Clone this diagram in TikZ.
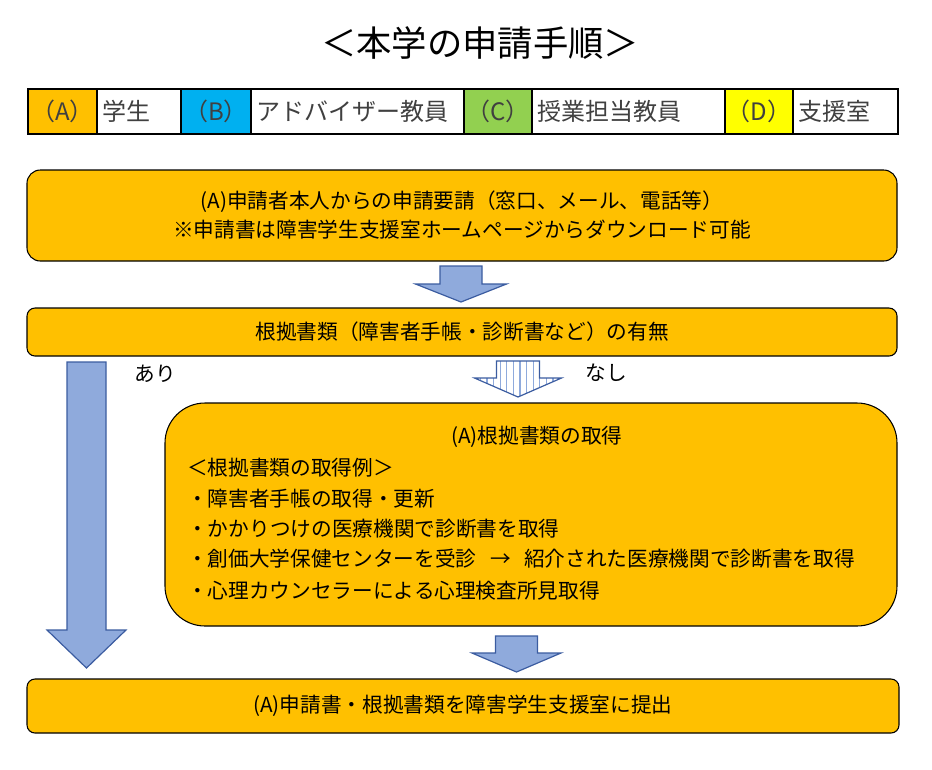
\documentclass[tikz,border=0pt]{standalone}
\usepackage{fontspec}
\setmainfont{Noto Sans CJK JP}

\definecolor{boxorange}{RGB}{255,192,0}
\definecolor{legblue}{RGB}{0,176,240}
\definecolor{leggreen}{RGB}{146,208,80}
\definecolor{legyellow}{RGB}{255,255,0}
\definecolor{legtext}{RGB}{64,64,64}
\definecolor{arrowfill}{RGB}{143,170,220}
\definecolor{arrowline}{RGB}{59,92,160}

% down block arrow: [style] x, top, head base, tip, shaft half width, head half width
\newcommand{\blockdown}[7][blockarrow]{%
  \path[#1] (#2-#6,#3) -- (#2+#6,#3) -- (#2+#6,#4) -- (#2+#7,#4) -- (#2,#5) -- (#2-#7,#4) -- (#2-#6,#4) -- cycle;}

\begin{document}
\begin{tikzpicture}[x=0.75pt, y=-0.75pt,
  flowbox/.style={draw, line width=0.8pt, fill=boxorange, inner sep=0pt, align=center, font=\fontsize{15.5}{21.75}\selectfont},
  legcell/.style={draw, line width=1.6pt, anchor=west, minimum height=33.75pt, inner sep=0pt, font=\fontsize{18}{20}\selectfont, text=legtext},
  legtextcell/.style={legcell, fill=white, inner xsep=4pt, align=left},
  blockarrow/.style={draw=arrowline, line width=0.9pt, fill=arrowfill},
  plain/.style={inner sep=0pt, font=\fontsize{15.5}{21.75}\selectfont}]
\useasboundingbox (0,0) rectangle (932,769);

\node[font=\fontsize{26.5}{30}\selectfont] (title) at (480,43) {＜本学の申請手順＞};

% legend
\node[legcell, fill=boxorange, minimum width=51.75pt] (la) at (27,111.5) {（A）};
\node[legtextcell, text width=55pt] (lstudent) at (96,111.5) {学生};
\node[legcell, fill=legblue, minimum width=52.5pt] (lb) at (180,111.5) {（B）};
\node[legtextcell, text width=151.75pt] (ladviser) at (250,111.5) {アドバイザー教員};
\node[legcell, fill=leggreen, minimum width=51pt] (lc) at (463,111.5) {（C）};
\node[legtextcell, text width=136.75pt] (lteacher) at (531,111.5) {授業担当教員};
\node[legcell, fill=legyellow, minimum width=51pt] (ld) at (724,111.5) {（D）};
\node[legtextcell, text width=70.75pt] (loffice) at (792,111.5) {支援室};

% flow
\node[flowbox, rounded corners=10pt, minimum width=652.5pt, minimum height=68.25pt] (request) at (462,215.5)
  {(A)申請者本人からの申請要請（窓口、メール、電話等）\\※申請書は障害学生支援室ホームページからダウンロード可能};
\node[flowbox, rounded corners=6pt, minimum width=652.5pt, minimum height=36pt] (evidence) at (462,332)
  {根拠書類（障害者手帳・診断書など）の有無};
\node[flowbox, rounded corners=30pt, minimum width=549pt, minimum height=167.25pt] (obtain) at (531,514.5) {};
\node[flowbox, rounded corners=6pt, minimum width=654pt, minimum height=40.5pt] (submit) at (463,706)
  {(A)申請書・根拠書類を障害学生支援室に提出};

\node[plain] (obtaintitle) at (537,437) {(A)根拠書類の取得};
\node[plain, anchor=west] (examples) at (187,468) {＜根拠書類の取得例＞};
\node[plain, anchor=west] (ex1) at (187,499) {・障害者手帳の取得・更新};
\node[plain, anchor=west] (ex2) at (187,529) {・かかりつけの医療機関で診断書を取得};
\node[plain, anchor=west] (ex3) at (187,559) {・創価大学保健センターを受診\hspace{0.65em}→\hspace{0.65em}紹介された医療機関で診断書を取得};
\node[plain, anchor=west] (ex4) at (187,591) {・心理カウンセラーによる心理検査所見取得};

\node[plain] (yes) at (155,374) {あり};
\node[plain] (no) at (606,373) {なし};

% arrows
\blockdown{461}{266}{284}{302}{21}{45.5}
\blockdown{86.5}{362}{630}{668}{19.5}{39.5}
\blockdown{516.5}{636}{653}{672}{21}{44.5}

\blockdown[fill=white]{518}{361}{378}{397}{21.5}{43.5}
\begin{scope}
\blockdown[clip]{518}{361}{378}{397}{21.5}{43.5}
\foreach \sx in {480.4,487,...,560}
  \draw[arrowfill, line width=0.9pt] (\sx,361) -- (\sx,397);
\end{scope}
\blockdown[draw=arrowline, line width=0.9pt]{518}{361}{378}{397}{21.5}{43.5}
\end{tikzpicture}
\end{document}
